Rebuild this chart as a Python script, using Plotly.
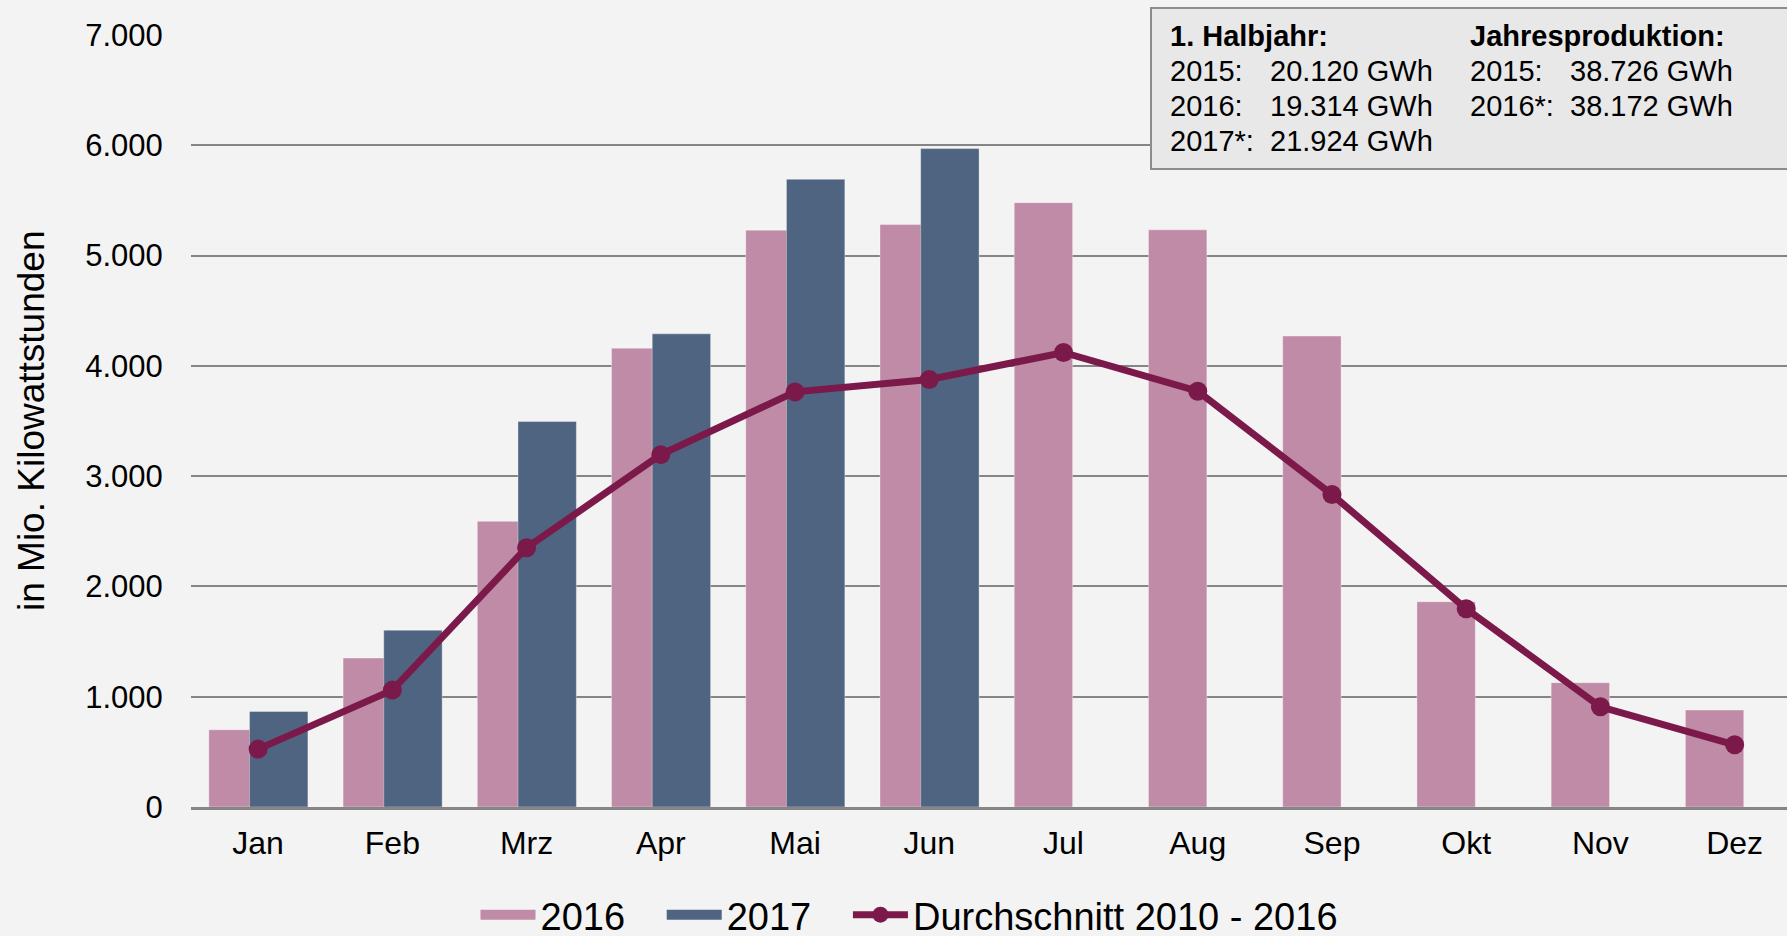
import plotly.graph_objects as go

months = ["Jan", "Feb", "Mrz", "Apr", "Mai", "Jun", "Jul", "Aug", "Sep", "Okt", "Nov", "Dez"]
prod_2016 = [700, 1350, 2590, 4160, 5230, 5281, 5480, 5233, 4270, 1861, 1127, 879]
prod_2017 = [866, 1603, 3496, 4290, 5692, 5970, None, None, None, None, None, None]
avg_2010_2016 = [525, 1060, 2351, 3195, 3764, 3876, 4121, 3770, 2833, 1797, 909, 564]

y_ticks = [0, 1000, 2000, 3000, 4000, 5000, 6000, 7000]

half_title = "1. Halbjahr:"
half_labels = ["2015:", "2016:", "2017*:"]
half_values = ["20.120 GWh", "19.314 GWh", "21.924 GWh"]
year_title = "Jahresproduktion:"
year_labels = ["2015:", "2016*:"]
year_values = ["38.726 GWh", "38.172 GWh"]

y_title = "in Mio. Kilowattstunden"

W, H = 1787, 936
L, R, T, B = 191, 0, 35, 129
PW, PH = W - L - R, H - T - B

def px(xp):
    return (xp - L) / PW

def py(yp):
    return (H - B - yp) / PH

BG = "#F3F3F3"
PINK = "#BF8BA6"
BLUE = "#4F6480"
WINE = "#7B1A4A"
GRID = "#858585"
FONT = "Liberation Sans, Arial, sans-serif"
PAD = "\u00a0\u00a0\u00a0"  # extra spacing between legend entries

fig = go.Figure()
fig.add_trace(go.Bar(
    x=months, y=prod_2016, name="2016", showlegend=False, legendgroup="2016",
    marker=dict(color=PINK, line=dict(color="rgba(255,255,255,0.35)", width=1)),
    offset=-0.367, width=0.435,
))
fig.add_trace(go.Bar(
    x=months, y=prod_2017, name="2017", showlegend=False, legendgroup="2017",
    marker=dict(color=BLUE, line=dict(color="rgba(255,255,255,0.35)", width=1)),
    offset=-0.064, width=0.435,
))
fig.add_trace(go.Scatter(
    x=months, y=avg_2010_2016, name="Durchschnitt 2010 - 2016",
    mode="lines+markers",
    line=dict(color=WINE, width=7),
    marker=dict(color=WINE, size=19),
))
# legend swatches for the bar series (wide rectangles like the original)
for nm, col in (("2016", PINK), ("2017", BLUE)):
    fig.add_trace(go.Scatter(
        x=[None], y=[None], name=nm + PAD, legendgroup=nm, mode="lines",
        line=dict(color=col, width=21),
    ))

fig.data[3].legendrank = 1
fig.data[4].legendrank = 2
fig.data[2].legendrank = 3

fig.update_layout(
    width=W, height=H,
    paper_bgcolor=BG, plot_bgcolor=BG,
    margin=dict(l=L, r=R, t=T, b=B, autoexpand=False),
    barmode="overlay",
    separators=",.",
    font=dict(family=FONT, color="#000000", size=32),
    showlegend=True,
    legend=dict(
        orientation="h", xref="container", yref="container",
        x=909.5 / W, xanchor="center", y=1 - 915 / H, yanchor="middle",
        font=dict(size=38), bgcolor="rgba(0,0,0,0)",
        traceorder="normal", itemwidth=55,
    ),
    xaxis=dict(
        type="category", range=[-0.5, 11.39],
        showgrid=False, showline=True, linecolor=GRID, linewidth=3,
        ticks="outside", ticklen=6, tickcolor="rgba(0,0,0,0)",
        tickfont=dict(size=32), fixedrange=True,
    ),
    yaxis=dict(
        range=[0, 7000], tickvals=y_ticks, tickformat=",.0f",
        showgrid=True, gridcolor=GRID, gridwidth=2,
        zeroline=False, showline=False,
        ticks="outside", ticklen=21, tickcolor="rgba(0,0,0,0)",
        tickfont=dict(size=31), fixedrange=True,
    ),
)

# y-axis title
fig.add_annotation(
    text=y_title, xref="paper", yref="paper",
    x=px(31), y=0.5, xanchor="center", yanchor="middle",
    textangle=-90, showarrow=False, font=dict(size=37),
)

# info box
fig.add_shape(
    type="rect", xref="paper", yref="paper",
    x0=px(1151), x1=px(1800), y0=py(169), y1=py(8),
    fillcolor="#E8E8E8", line=dict(color="#8C8C8C", width=2), layer="above",
)
row_y = [36, 71, 106, 141]
box_font = dict(size=29, color="#000000")
def note(text, xp, yp, bold=False):
    fig.add_annotation(
        text=f"<b>{text}</b>" if bold else text,
        xref="paper", yref="paper", x=px(xp), y=py(yp),
        xanchor="left", yanchor="middle", showarrow=False, font=box_font,
    )

note(half_title, 1168, row_y[0], bold=True)
for i, (lab, val) in enumerate(zip(half_labels, half_values)):
    note(lab, 1168, row_y[i + 1])
    note(val, 1268, row_y[i + 1])
note(year_title, 1468, row_y[0], bold=True)
for i, (lab, val) in enumerate(zip(year_labels, year_values)):
    note(lab, 1468, row_y[i + 1])
    note(val, 1568, row_y[i + 1])

fig.write_html(
    "out.html",
    config={"displayModeBar": False},
    post_script="document.body.style.margin='0';document.body.style.overflow='hidden';",
)
